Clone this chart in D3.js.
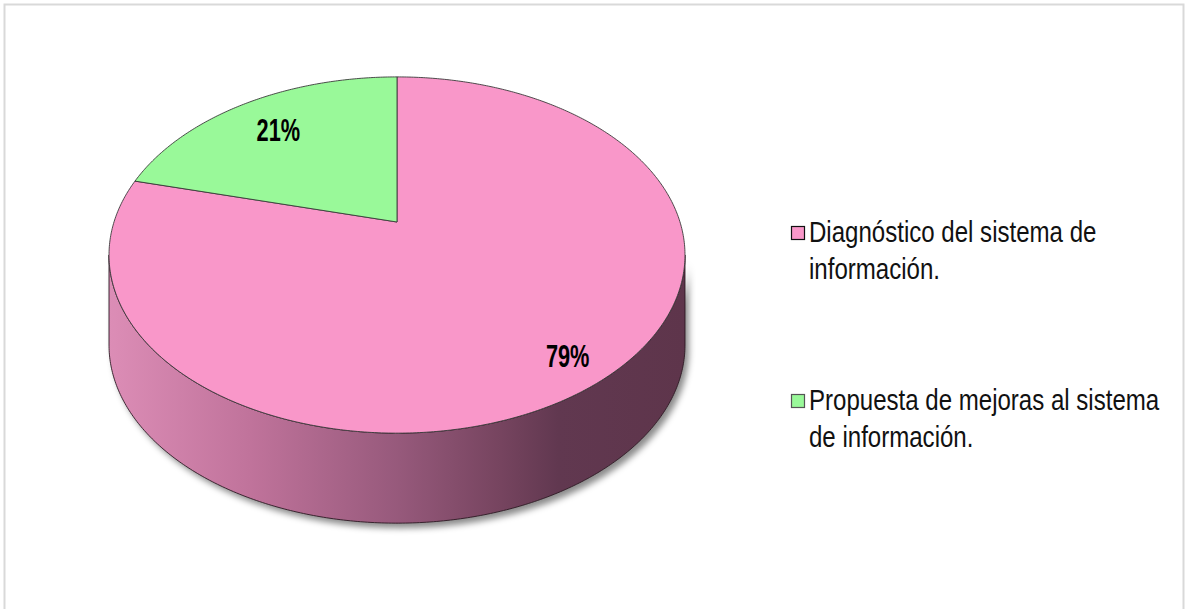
<!DOCTYPE html>
<html>
<head>
<meta charset="utf-8">
<script src="https://cdn.jsdelivr.net/npm/d3@7"></script>
<style>
  html, body { margin: 0; padding: 0; background: #fff; }
  svg { display: block; }
</style>
</head>
<body>
<svg id="chart" width="1186" height="609"></svg>
<script>
// Chart data
const categories = ["Diagnóstico del sistema de información.", "Propuesta de mejoras al sistema de información."];
const values = [79, 21];
const valueLabels = ["79%", "21%"];
const legendLines = [["Diagnóstico del sistema de", "información."], ["Propuesta de mejoras al sistema", "de información."]];
const sliceColors = ["#F997C9", "#99F999"];

const svg = d3.select("#chart");
const W = 1186, H = 609;

// Frame
svg.append("rect")
  .attr("x", 4.5).attr("y", 4.5).attr("width", 1179).attr("height", 620)
  .attr("fill", "#fff").attr("stroke", "#d9d9d9").attr("stroke-width", 2);

// Perspective disk: theta is measured clockwise from 12 o'clock
const cx = 397, cy = 222;     // projected pie centre
const ax = 283, by = 172;     // horizontal / depth radii
const persp = 0.1854;         // perspective strength
const depth = 90;             // side wall height

function project(theta, r = 1, dz = 0) {
  const u = r * Math.sin(theta);
  const v = -r * Math.cos(theta);
  const w = 1 - persp * v;
  return [cx + ax * u / w, cy + by * v / w + dz];
}

const pie = d3.pie().sort(null).startAngle(0).endAngle(2 * Math.PI);
const arcs = pie(values);
const line = d3.line();

function arcPoints(a0, a1, dz) {
  const n = Math.max(8, Math.ceil(Math.abs(a1 - a0) / 0.01));
  return d3.range(n + 1).map(i => project(a0 + (a1 - a0) * i / n, 1, dz));
}

const defs = svg.append("defs");
const grad = defs.append("linearGradient")
  .attr("id", "wallGrad").attr("gradientUnits", "userSpaceOnUse")
  .attr("x1", 109).attr("x2", 685).attr("y1", 0).attr("y2", 0);
[[0, "#dc8db6"], [0.245, "#c0739b"], [0.505, "#96597b"], [0.68, "#76445f"], [0.78, "#613850"], [1, "#5e354b"]]
  .forEach(([o, c]) => grad.append("stop").attr("offset", o).attr("stop-color", c));

const blur = defs.append("filter").attr("id", "shadowBlur")
  .attr("x", "-10%").attr("y", "-10%").attr("width", "120%").attr("height", "130%");
blur.append("feGaussianBlur").attr("stdDeviation", 3);

// Visible front range of the rim (outline extremes)
const thR = Math.acos(-persp);
const thL = 2 * Math.PI - thR;

const walls = arcs.map((d, i) => {
  const a0 = Math.max(d.startAngle, thR), a1 = Math.min(d.endAngle, thL);
  if (a1 <= a0) return null;
  const top = arcPoints(a0, a1, 0);
  const bottom = arcPoints(a1, a0, depth);
  return { i, pts: top.concat(bottom) };
}).filter(Boolean);

// Soft shadow under the wall
svg.append("g").attr("filter", "url(#shadowBlur)")
  .selectAll("path").data(walls).join("path")
  .attr("d", d => line(d.pts) + "Z")
  .attr("transform", "translate(4,5)")
  .attr("fill", "#000").attr("opacity", 0.45);

// Side walls
svg.append("g").selectAll("path").data(walls).join("path")
  .attr("d", d => line(d.pts) + "Z")
  .attr("fill", "url(#wallGrad)")
  .attr("stroke", "#2e1a24").attr("stroke-width", 0.9);

// Top faces
svg.append("g").selectAll("path").data(arcs).join("path")
  .attr("d", d => line([project(0, 0)].concat(arcPoints(d.startAngle, d.endAngle, 0))) + "Z")
  .attr("fill", (d, i) => sliceColors[i])
  .attr("stroke", "#3a3a3a").attr("stroke-width", 0.9).attr("stroke-linejoin", "round");

// Value labels
const labelRadius = d => (d.value < 50 ? 0.76 : 0.86);
svg.append("g").selectAll("g").data(arcs).join("g")
  .attr("transform", d => {
    const [x, y] = project((d.startAngle + d.endAngle) / 2, labelRadius(d));
    return `translate(${x},${y}) scale(0.68,1)`;
  })
  .append("text")
  .attr("text-anchor", "middle").attr("dy", "0.36em")
  .attr("font-family", "'Liberation Sans', Arial, sans-serif")
  .attr("font-weight", "bold").attr("font-size", 32).attr("fill", "#000")
  .text((d, i) => valueLabels[i]);

// Legend
const legendX = 791, legendTops = [226, 394];
const legend = svg.append("g").selectAll("g").data(categories).join("g")
  .attr("transform", (d, i) => `translate(${legendX},${legendTops[i]})`);
legend.append("rect")
  .attr("x", 0.5).attr("y", 0.5).attr("width", 13).attr("height", 13)
  .attr("fill", (d, i) => sliceColors[i])
  .attr("stroke", (d, i) => (i === 0 ? "#111" : "#555")).attr("stroke-width", 1.2);
legend.each(function(d, i) {
  const g = d3.select(this);
  legendLines[i].forEach((t, j) => {
    g.append("g").attr("transform", `translate(18,${16 + j * 37}) scale(0.83,1)`)
      .append("text")
      .attr("font-family", "'Liberation Sans', Arial, sans-serif")
      .attr("font-size", 29).attr("fill", "#111")
      .text(t);
  });
});
</script>
</body>
</html>
